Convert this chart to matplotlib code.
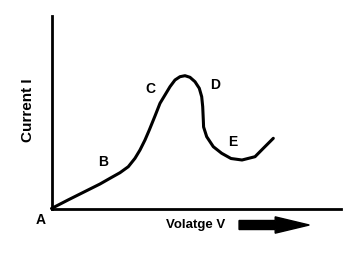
import matplotlib
matplotlib.use("Agg")
import matplotlib.pyplot as plt

# I-V curve of a tunnel diode (arbitrary units)
voltage = [0.0, 0.571, 1.263, 1.678, 2.024, 2.370, 2.657, 2.889, 3.062,
           3.235, 3.384, 3.581, 3.754, 3.927, 4.100, 4.273, 4.446, 4.619,
           4.792, 4.965, 5.114, 5.197, 5.232, 5.253, 5.263, 5.370, 5.599,
           5.889, 6.211, 6.592, 7.042, 7.329, 7.675]
current = [0.0, 0.443, 0.964, 1.276, 1.573, 1.865, 2.177, 2.615, 3.047,
           3.568, 4.089, 4.818, 5.479, 5.911, 6.344, 6.693, 6.865, 6.917,
           6.833, 6.604, 6.260, 5.823, 5.302, 4.609, 4.245, 3.740, 3.219,
           2.875, 2.604, 2.526, 2.698, 3.135, 3.656]

point_names = ["A", "B", "C", "D", "E"]
point_v = [-0.36, 1.78, 3.41, 5.66, 6.28]
point_i = [-0.60, 2.42, 6.22, 6.41, 3.48]

x_label = "Volatge V"
y_label = "Current I"

plt.rcParams["font.family"] = ["Liberation Sans", "DejaVu Sans"]

fig = plt.figure(figsize=(3.61, 2.60), dpi=100)
ax = fig.add_axes([51.5 / 361, (260 - 208.5) / 260, 289 / 361, 192 / 260])
ax.set_xlim(0, 10)
ax.set_ylim(0, 10)

for side in ["top", "right"]:
    ax.spines[side].set_visible(False)
for side in ["left", "bottom"]:
    ax.spines[side].set_linewidth(2.0)
ax.set_xticks([])
ax.set_yticks([])

ax.plot(voltage, current, color="black", lw=2.2,
        solid_joinstyle="round", solid_capstyle="round", clip_on=False)

for name, v, i in zip(point_names, point_v, point_i):
    ax.text(v, i, name, fontsize=10, fontweight="bold",
            ha="center", va="center", clip_on=False)

ax.text(-0.8, 5.13, y_label, rotation=90, fontsize=11, fontweight="bold",
        ha="center", va="center")
ax.text(5.0, -0.86, x_label, fontsize=9.5, fontweight="bold",
        ha="center", va="center")

# big black arrow next to the voltage label
ax.arrow(6.49, -0.86, 2.43, 0, width=0.47, head_width=0.85,
         head_length=1.18, length_includes_head=True,
         color="black", clip_on=False)

fig.savefig("out.png", dpi=100)
